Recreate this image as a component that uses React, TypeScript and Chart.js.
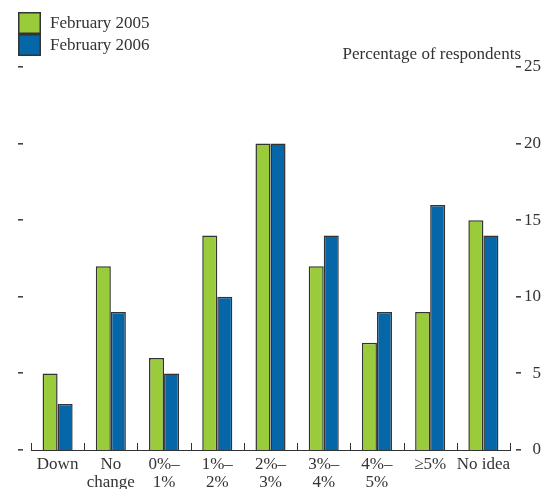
import React, { useEffect, useRef } from "react";
import { Chart, registerables } from "chart.js";

Chart.register(...registerables);

const categories: string[][] = [
  ["Down"],
  ["No", "change"],
  ["0%–", "1%"],
  ["1%–", "2%"],
  ["2%–", "3%"],
  ["3%–", "4%"],
  ["4%–", "5%"],
  ["≥5%"],
  ["No idea"],
];
const series2005 = [5, 12, 6, 14, 20, 12, 7, 9, 15];
const series2006 = [3, 9, 5, 10, 20, 14, 9, 16, 14];
const yTickValues = [0, 5, 10, 15, 20, 25];
const seriesLabels = ["February 2005", "February 2006"];
const seriesColors = ["#9acb3b", "#0566a8"];
const axisTitle = "Percentage of respondents";

const FONT = "'Liberation Serif', 'Times New Roman', serif";
const INK = "#333333";

const decorPlugin = {
  id: "decor",
  afterDraw(chart: any) {
    const ctx = chart.ctx as CanvasRenderingContext2D;
    const { left, right, bottom } = chart.chartArea;
    const ys = chart.scales.y;
    ctx.save();
    ctx.fillStyle = "#444";
    yTickValues.forEach((v) => {
      const py = ys.getPixelForValue(v);
      ctx.fillRect(18, Math.round(py) - 1, 5, 1.6);
      ctx.fillRect(516, Math.round(py) - 1, 5, 1.6);
    });
    ctx.strokeStyle = INK;
    ctx.lineWidth = 1;
    const n = categories.length;
    const w = (right - left) / n;
    for (let i = 0; i <= n; i++) {
      const bx = Math.round(left + i * w) + 0.5;
      ctx.beginPath();
      ctx.moveTo(bx, bottom);
      ctx.lineTo(bx, bottom - 7);
      ctx.stroke();
    }
    ctx.fillStyle = INK;
    ctx.font = `17px ${FONT}`;
    ctx.textAlign = "right";
    ctx.textBaseline = "middle";
    ctx.fillText(axisTitle, 521, 55);
    ctx.textAlign = "left";
    chart.data.datasets.forEach((ds: any, i: number) => {
      const y0 = 12 + i * 22;
      ctx.fillStyle = ds.backgroundColor;
      ctx.fillRect(18, y0, 23, 22);
      ctx.strokeStyle = INK;
      ctx.lineWidth = 1.5;
      ctx.strokeRect(18.75, y0 + 0.75, 21.5, 20.5);
      ctx.fillStyle = INK;
      ctx.fillText(ds.label, 50, y0 + 12);
    });
    ctx.restore();
  },
};

export default function App() {
  const ref = useRef<HTMLCanvasElement | null>(null);
  useEffect(() => {
    if (!ref.current) return;
    const chart = new Chart(ref.current, {
      type: "bar",
      data: {
        labels: categories,
        datasets: [
          {
            label: seriesLabels[0],
            data: series2005,
            backgroundColor: seriesColors[0],
            borderColor: INK,
            borderWidth: 1.5,
          },
          {
            label: seriesLabels[1],
            data: series2006,
            backgroundColor: seriesColors[1],
            borderColor: INK,
            borderWidth: 1.5,
          },
        ],
      },
      options: {
        responsive: false,
        animation: false,
        layout: { padding: { left: 31, right: 3, top: 67, bottom: 0 } },
        datasets: { bar: { categoryPercentage: 0.565, barPercentage: 1.0 } },
        plugins: { legend: { display: false }, tooltip: { enabled: false }, title: { display: false } },
        scales: {
          x: {
            grid: { display: false },
            border: { display: true, color: INK, width: 1 },
            ticks: {
              color: INK,
              font: { family: FONT, size: 17, lineHeight: 1.06 },
              padding: -2,
              maxRotation: 0,
              autoSkip: false,
            },
            afterFit: (scale: any) => {
              scale.height = 39;
            },
          },
          y: {
            position: "right",
            min: 0,
            max: 25,
            grid: { display: false },
            border: { display: false },
            ticks: {
              stepSize: 5,
              color: INK,
              font: { family: FONT, size: 17 },
              crossAlign: "far",
            },
            afterFit: (scale: any) => {
              scale.width = 31;
            },
          },
        },
      },
      plugins: [decorPlugin],
    } as any);
    return () => chart.destroy();
  }, []);
  return (
    <div style={{ position: "absolute", left: 0, top: 0, width: 544, height: 489, background: "#fff" }}>
      <canvas ref={ref} width={544} height={489} />
    </div>
  );
}
